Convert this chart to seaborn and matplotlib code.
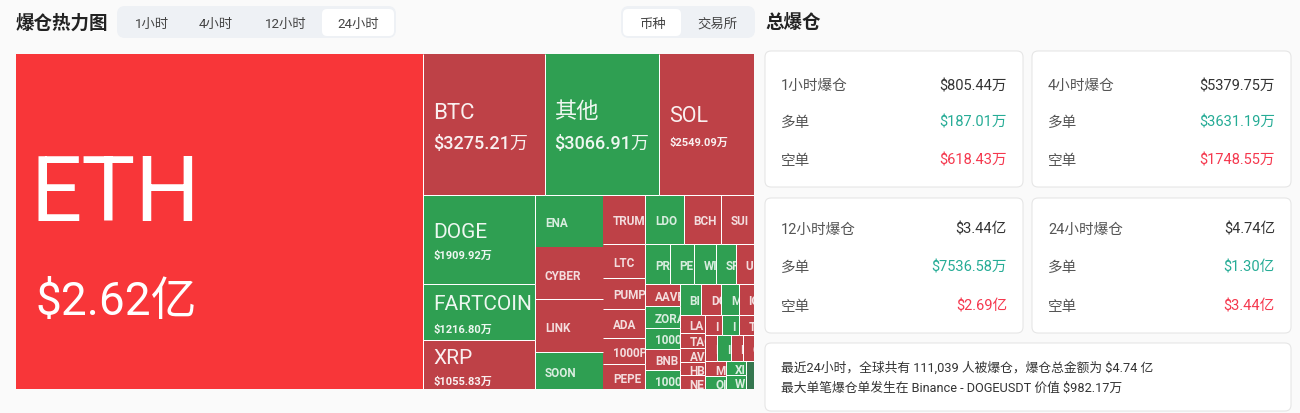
import matplotlib
matplotlib.use('Agg')
import matplotlib.pyplot as plt
from matplotlib.patches import FancyBboxPatch
import seaborn as sns

# coins in treemap order, values in 万 USD (small cells estimated from their area)
symbols = ['ETH', 'BTC', '其他', 'SOL', 'DOGE', 'FARTCOIN', 'XRP',
           'ENA', 'CYBER', 'LINK', 'SOON',
           'TRUMP', 'LTC', 'PUMP', 'ADA', '1000P', 'PEPE',
           'LDO', 'BCH', 'SUI',
           'PR', 'PE', 'WI', 'SP', 'U',
           'AAVE', 'ZORA', '1000', 'BNB', '1000',
           'BI', 'DO', 'M', 'IO',
           'LA', 'TAO', 'AVA', 'HB', 'NE',
           'I', 'I', 'T',
           'I', 'I', 'I', 'C',
           'MY', 'OI', 'XI', 'W', '']
values = [26200, 3275.21, 3066.91, 2549.09, 1909.92, 1216.80, 1055.83,
          687, 682, 691, 482,
          395, 274, 250, 234, 217, 201,
          362, 348, 315,
          188, 184, 172, 153, 138,
          146, 146, 139, 139, 132,
          128, 119, 104, 92,
          88, 73, 68, 68, 68,
          67, 67, 59,
          60, 65, 60, 55,
          57, 53, 56, 56, 43]
sides = ['hot', 'short', 'long', 'short', 'long', 'long', 'short',
         'long', 'short', 'short', 'long',
         'short', 'short', 'short', 'short', 'short', 'short',
         'long', 'short', 'short',
         'long', 'long', 'long', 'long', 'short',
         'short', 'long', 'long', 'short', 'long',
         'long', 'short', 'long', 'short',
         'short', 'short', 'short', 'short', 'short',
         'short', 'long', 'short',
         'short', 'long', 'short', 'short',
         'short', 'long', 'long', 'long', 'rest']

# right hand cards
card_titles = ['1小时爆仓', '4小时爆仓', '12小时爆仓', '24小时爆仓']
card_totals = ['$805.44万', '$5379.75万', '$3.44亿', '$4.74亿']
card_longs = ['$187.01万', '$3631.19万', '$7536.58万', '$1.30亿']
card_shorts = ['$618.43万', '$1748.55万', '$2.69亿', '$3.44亿']
time_tabs = ['1小时', '4小时', '12小时', '24小时']
group_tabs = ['币种', '交易所']
summary_lines = ['最近24小时，全球共有 111,039 人被爆仓，爆仓总金额为 $4.74 亿',
                 '最大单笔爆仓单发生在 Binance - DOGEUSDT 价值 $982.17万']

# how the treemap is cut: direction and number of cells per strip
strips = [('col', 1), ('row', 3), ('col', 3), ('col', 4), ('col', 6), ('row', 3), ('row', 5),
          ('col', 5), ('row', 4), ('col', 5), ('row', 3), ('row', 4), ('col', 2), ('col', 2), ('col', 1)]

cell_colors = {'hot': '#F83639', 'short': '#BE4147', 'long': '#2F9F52', 'rest': '#35774F'}
no_right = {'ENA', 'CYBER', 'LINK', 'SOON'}
no_bottom = {'ENA'}

# name size, value size, value weight, name dy, value dy, left pad, value pad (pt / px)
big_labels = {
    'ETH': (65, 33, 'normal', -27, 79, 14, 20),
    'BTC': (16, 13, 'medium', -12, 19, 10, 10),
    '其他': (16, 13, 'medium', -13, 19, 9, 9),
    'SOL': (15.5, 8, 'bold', -9, 17, 10, 10),
    'DOGE': (15, 8, 'bold', -8, 16, 10, 10),
    'FARTCOIN': (15, 8, 'bold', -8, 17, 10, 10),
    'XRP': (15, 8, 'bold', -7, 16, 10, 10),
}

sns.set_theme(style='white', rc={'figure.facecolor': '#FAFAFA', 'axes.facecolor': 'none',
                                 'axes.linewidth': 0})
plt.rcParams['font.family'] = ['Roboto', 'Noto Sans CJK SC', 'DejaVu Sans']


def layout_cells():
    # proportional strips, each cut off the rectangle that is still free
    cells = []
    x, y, w, h = 0.0, 0.0, 1.0, 1.0
    i = 0
    left = sum(values)
    for direction, n in strips:
        part = sum(values[i:i + n])
        share = part / left
        pos = 0.0
        for v in values[i:i + n]:
            f = v / part
            if direction == 'col':
                cells.append((x, y + pos * h, share * w, f * h))
            else:
                cells.append((x + pos * w, y, f * w, share * h))
            pos += f
        if direction == 'col':
            x += share * w
            w -= share * w
        else:
            y += share * h
            h -= share * h
        i += n
        left -= part
    return cells


def money(v):
    if v >= 10000:
        return f'${v / 10000:.2f}亿'
    return f'${v:.2f}万'


def draw_treemap(ax):
    for sym, val, side, (x, y, w, h) in zip(symbols, values, sides, layout_cells()):
        bar = ax.bar(x, h, width=w, bottom=y, align='edge', color=cell_colors[side], linewidth=0)[0]
        if x + w < 0.9999 and sym not in no_right:
            ax.vlines(x + w, y, y + h, color='white', lw=0.72)
        if y + h < 0.9999 and sym not in no_bottom:
            ax.hlines(y + h, x, x + w, color='white', lw=0.72)
        mid = y + h / 2
        if sym in big_labels:
            name_pt, val_pt, val_w, name_dy, val_dy, pad, val_pad = big_labels[sym]
            fade = 1.0 if sym == 'ETH' else 0.92
            ax.annotate(sym, (x, mid), xytext=(pad * 0.72, -name_dy * 0.72), textcoords='offset points',
                        fontsize=name_pt, color='white', alpha=fade, va='center')
            ax.annotate(money(val), (x, mid), xytext=(val_pad * 0.72, -val_dy * 0.72),
                        textcoords='offset points', fontsize=val_pt, fontweight=val_w,
                        color='white', alpha=fade, va='center')
        elif sym:
            t = ax.annotate(sym, (x, mid), xytext=(7.0, -1.2), textcoords='offset points', fontsize=8.5,
                            fontweight='bold', color='white', alpha=0.82, va='center')
            t.set_clip_path(bar)
            t.set_clip_on(True)
    ax.set_xlim(0, 1)
    ax.set_ylim(1, 0)
    ax.set_xticks([])
    ax.set_yticks([])
    sns.despine(ax=ax, left=True, bottom=True)


def round_box(ui, x0, y0, x1, y1, color, edge='none', r=6):
    ui.add_patch(FancyBboxPatch((x0 + r, y0 + r), x1 - x0 - 2 * r, y1 - y0 - 2 * r,
                                boxstyle=f'round,pad={r},rounding_size={r}',
                                fc=color, ec=edge, lw=0.8))


def draw_header(ui):
    ui.text(16, 24, '爆仓热力图', fontsize=13.3, fontweight='bold', color='#222222', va='center')
    ui.text(765, 23, '总爆仓', fontsize=13.3, fontweight='bold', color='#222222', va='center')
    round_box(ui, 117, 7, 396, 39, '#EEF1F5', r=8)
    round_box(ui, 322, 10, 394, 37, 'white', r=5)
    for label, cx in zip(time_tabs, [152, 216, 286, 358]):
        ui.text(cx, 28, label, fontsize=9.6, color='#444444', ha='center', va='baseline')
    round_box(ui, 621, 7, 755, 39, '#EEF1F5', r=8)
    round_box(ui, 623, 10, 681, 37, 'white', r=5)
    for label, cx in zip(group_tabs, [652, 717]):
        ui.text(cx, 28, label, fontsize=9.6, color='#444444', ha='center', va='baseline')


def draw_cards(ui):
    boxes = [(765, 52, 1023, 188), (1032, 52, 1291, 188), (765, 199, 1023, 334), (1032, 199, 1291, 334)]
    rows = [(90, 127, 165), (90, 127, 165), (234, 272, 311), (234, 272, 311)]
    for i, (x0, y0, x1, y1) in enumerate(boxes):
        round_box(ui, x0, y0, x1, y1, 'white', edge='#E6E6E6')
        ya, yb, yc = rows[i]
        lx, rx = x0 + 16, x1 - 16
        ui.text(lx, ya, card_titles[i], fontsize=10.5, color='#555555', va='baseline')
        ui.text(rx, ya, card_totals[i], fontsize=10.5, color='#333333', va='baseline', ha='right')
        ui.text(lx, yb, '多单', fontsize=10.5, color='#555555', va='baseline')
        ui.text(rx, yb, card_longs[i], fontsize=10.5, color='#26AC96', va='baseline', ha='right')
        ui.text(lx, yc, '空单', fontsize=10.5, color='#555555', va='baseline')
        ui.text(rx, yc, card_shorts[i], fontsize=10.5, color='#F5384E', va='baseline', ha='right')
    round_box(ui, 765, 344, 1291, 412, 'white', edge='#E6E6E6')
    ui.text(781, 372, summary_lines[0], fontsize=9.2, color='#333333', va='baseline')
    ui.text(781, 392, summary_lines[1], fontsize=9.2, color='#333333', va='baseline')


def main():
    fig = plt.figure(figsize=(13, 4.14), dpi=100)

    # page furniture, in pixels
    ui = fig.add_axes([0, 0, 1, 1])
    ui.set_xlim(0, 1300)
    ui.set_ylim(414, 0)
    ui.axis('off')
    draw_header(ui)
    draw_cards(ui)

    ax = fig.add_axes([16 / 1300, (414 - 390.4) / 414, 738 / 1300, 335 / 414])
    draw_treemap(ax)

    fig.savefig('out.png', dpi=100, facecolor=fig.get_facecolor())


if __name__ == "__main__":
    main()
